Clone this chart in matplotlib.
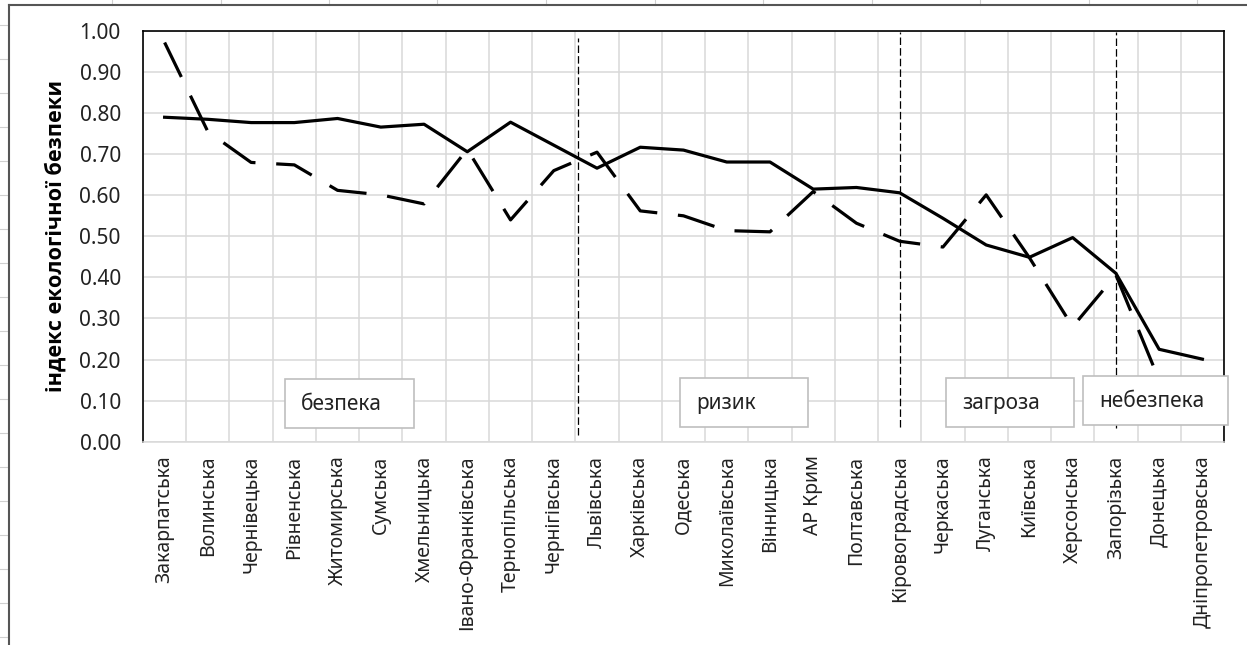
import matplotlib.pyplot as plt
from matplotlib.lines import Line2D
from matplotlib.patches import Rectangle
from matplotlib.ticker import FixedLocator, FormatStrFormatter
import numpy as np

plt.rcParams['font.family'] = ['Noto Sans', 'DejaVu Sans']

# області України, впорядковані за індексом
regions = ['Закарпатська', 'Волинська', 'Чернівецька', 'Рівненська', 'Житомирська',
           'Сумська', 'Хмельницька', 'Івано-Франківська', 'Тернопільська', 'Чернігівська',
           'Львівська', 'Харківська', 'Одеська', 'Миколаївська', 'Вінницька',
           'АР Крим', 'Полтавська', 'Кіровоградська', 'Черкаська', 'Луганська',
           'Київська', 'Херсонська', 'Запорізька', 'Донецька', 'Дніпропетровська']

index_solid = [0.790, 0.785, 0.777, 0.777, 0.787, 0.766, 0.773, 0.706, 0.778, 0.722,
               0.666, 0.717, 0.710, 0.681, 0.681, 0.615, 0.619, 0.606, 0.544, 0.479,
               0.449, 0.497, 0.410, 0.225, 0.201]

index_dashed = [0.972, 0.755, 0.680, 0.674, 0.612, 0.601, 0.579, 0.712, 0.540, 0.660,
                0.705, 0.562, 0.550, 0.514, 0.511, 0.609, 0.532, 0.488, 0.474, 0.601,
                0.448, 0.280, 0.406, 0.150, 0.100]

# межі зон і підписи зон
zone_bounds = [9.57, 17, 22]
zone_names = ['безпека', 'ризик', 'загроза', 'небезпека']

W, H = 1247, 645
fig = plt.figure(figsize=(W / 100, H / 100), dpi=100)
ax = fig.add_axes([143 / W, 1 - 441.7 / H, (1224 - 143) / W, (441.7 - 31) / H])

x = np.arange(len(regions))
ax.plot(x, index_solid, color='black', lw=2.3, solid_joinstyle='round', zorder=3)
ax.plot(x, index_dashed, color='black', lw=2.3, dashes=(12, 6.5),
        dash_capstyle='butt', zorder=3)

for xb, (y0, y1) in zip(zone_bounds, [(0.016, 0.983), (0.036, 0.998), (0.033, 0.998)]):
    ax.plot([xb, xb], [y0, y1], color='black', lw=0.9, dashes=(6, 2.5), zorder=4)

# рамки з назвами зон
boxes = [(2.78, 0.033, 2.99), (11.92, 0.035, 2.96), (18.07, 0.035, 2.96), (21.24, 0.040, 3.35)]
for name, (bx, by, bw) in zip(zone_names, boxes):
    ax.add_patch(Rectangle((bx, by), bw, 0.119, facecolor='white', edgecolor='#bfbfbf',
                           lw=1.2, zorder=5, clip_on=False))
    ax.text(bx + 0.38, by + 0.058, name, fontsize=15, va='center', ha='left',
            color='#222222', zorder=6, clip_on=False)

ax.set_xlim(-0.5, len(regions) - 0.5)
ax.set_ylim(0, 1)
ax.set_xticks(x)
ax.set_xticklabels(regions, rotation=90, fontsize=14)
ax.xaxis.set_minor_locator(FixedLocator(np.arange(-0.5, len(regions), 1)))
ax.set_yticks(np.arange(0, 1.01, 0.1))
ax.yaxis.set_major_formatter(FormatStrFormatter('%.2f'))
ax.tick_params(axis='y', length=0, pad=16, labelsize=15, labelcolor='#222222')
ax.tick_params(axis='x', which='both', length=0, pad=10, labelcolor='#222222')
ax.grid(axis='y', which='major', color='#d9d9d9', lw=1.1)
ax.grid(axis='x', which='minor', color='#d9d9d9', lw=1.1)
ax.set_axisbelow(True)

for side in ['left', 'top', 'right']:
    ax.spines[side].set_color('black')
    ax.spines[side].set_linewidth(1.2)
ax.spines['bottom'].set_color('#d9d9d9')
ax.spines['bottom'].set_linewidth(1.1)

ax.set_ylabel('індекс екологічної безпеки', fontsize=15.7, fontweight='bold',
              family=['Open Sans', 'Liberation Sans', 'DejaVu Sans'])
ax.yaxis.set_label_coords(-0.071, 0.5)

# сітка аркуша навколо рамки діаграми
for cx in np.arange(112, W, 108.5):
    fig.add_artist(Line2D([cx / W, cx / W], [1 - 5 / H, 1], color='#d0d0d0', lw=0.8))
for ry in np.arange(25, H, 34):
    fig.add_artist(Line2D([0, 8 / W], [1 - ry / H, 1 - ry / H], color='#d0d0d0', lw=0.8))
fig.add_artist(Line2D([9 / W, 9 / W], [0, 1 - 5 / H], color='#555555', lw=1.5))
fig.add_artist(Line2D([9 / W, 1], [1 - 5 / H, 1 - 5 / H], color='#555555', lw=1.5))

fig.savefig('out.png', dpi=100)
